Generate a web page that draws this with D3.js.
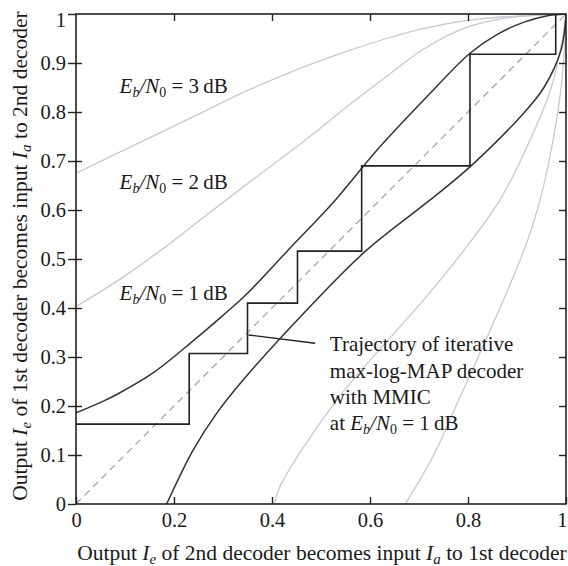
<!DOCTYPE html>
<html><head><meta charset="utf-8">
<script src="https://cdn.jsdelivr.net/npm/d3@7"></script>
<style>body{margin:0;background:#fff}svg{display:block}text{font-family:"Liberation Serif","Times New Roman",serif;fill:#1a1a1a}</style>
</head><body><svg id="c" width="568" height="566"></svg>
<script>
// ---- data ----
const xTicks = [0, 0.2, 0.4, 0.6, 0.8, 1];
const xTickLabels = ["0", "0.2", "0.4", "0.6", "0.8", "1"];
const yTicks = [0, 0.1, 0.2, 0.3, 0.4, 0.5, 0.6, 0.7, 0.8, 0.9, 1];
const yTickLabels = ["0", "0.1", "0.2", "0.3", "0.4", "0.5", "0.6", "0.7", "0.8", "0.9", "1"];

// 1st decoder transfer curves (Ie1 as function of Ia1)
const dec1_1dB_x = [0, 0.056, 0.086, 0.158, 0.239, 0.30, 0.348, 0.43, 0.529, 0.614, 0.716, 0.804, 0.859, 0.913, 0.96, 1.0];
const dec1_1dB_y = [0.186, 0.21, 0.225, 0.268, 0.333, 0.385, 0.428, 0.515, 0.62, 0.722, 0.831, 0.92, 0.958, 0.983, 0.996, 1.0];
const dec1_2dB_x = [0, 0.09, 0.199, 0.273, 0.369, 0.471, 0.552, 0.641, 0.709, 0.79, 0.879, 1.0];
const dec1_2dB_y = [0.403, 0.459, 0.537, 0.595, 0.668, 0.745, 0.81, 0.878, 0.928, 0.97, 0.992, 1.0];
const dec1_3dB_x = [0, 0.122, 0.245, 0.335, 0.437, 0.539, 0.634, 0.722, 0.824, 1.0];
const dec1_3dB_y = [0.675, 0.734, 0.793, 0.837, 0.881, 0.919, 0.95, 0.973, 0.99, 1.0];

// 2nd decoder transfer curves (Ie2 on x axis as function of Ia2 on y axis)
const dec2_1dB_y = [0, 0.11, 0.185, 0.253, 0.396, 0.518, 0.62, 0.688, 0.797, 0.85, 0.927, 1.0];
const dec2_1dB_x = [0.185, 0.239, 0.287, 0.341, 0.471, 0.593, 0.722, 0.804, 0.913, 0.955, 0.99, 1.0];
const dec2_2dB_y = [0, 0.035, 0.212, 0.416, 0.508, 0.62, 0.75, 0.85, 0.95, 1.0];
const dec2_2dB_x = [0.405, 0.416, 0.532, 0.709, 0.784, 0.865, 0.93, 0.97, 0.993, 1.0];
const dec2_3dB_y = [0, 0.1, 0.219, 0.287, 0.416, 0.52, 0.62, 0.75, 0.85, 0.95, 1.0];
const dec2_3dB_x = [0.672, 0.73, 0.784, 0.815, 0.872, 0.915, 0.947, 0.975, 0.99, 0.998, 1.0];

// decoding trajectory (staircase)
const traj_x = [0, 0.231, 0.231, 0.35, 0.35, 0.452, 0.452, 0.583, 0.583, 0.804, 0.804, 0.979, 0.979];
const traj_y = [0.163, 0.163, 0.307, 0.307, 0.41, 0.41, 0.516, 0.516, 0.69, 0.69, 0.918, 0.918, 1.0];

// diagonal and annotation leader
const diag_x = [0, 1];
const diag_y = [0, 1];
const leader_x = [0.352, 0.488];
const leader_y = [0.345, 0.328];

// ---- drawing ----
const FONT = '"Liberation Serif", "Times New Roman", serif';
const svg = d3.select("#c");
const L = 76, R = 566, T = 14, B = 504;
const x = d3.scaleLinear().domain([0, 1]).range([L, R]);
const y = d3.scaleLinear().domain([0, 1]).range([B, T]);
const zip = (xs, ys) => xs.map((v, i) => [v, ys[i]]);

svg.append("defs").append("clipPath").attr("id", "clip")
  .append("rect").attr("x", L).attr("y", T).attr("width", R - L).attr("height", B - T);
const plot = svg.append("g").attr("clip-path", "url(#clip)");

const smooth = d3.line().x(d => x(d[0])).y(d => y(d[1])).curve(d3.curveCatmullRom.alpha(0.5));
const lineL = d3.line().x(d => x(d[0])).y(d => y(d[1]));

const gray = "#c6c9d1";
[[dec1_2dB_x, dec1_2dB_y], [dec1_3dB_x, dec1_3dB_y], [dec2_2dB_x, dec2_2dB_y], [dec2_3dB_x, dec2_3dB_y]].forEach(([a, b]) =>
  plot.append("path").attr("d", smooth(zip(a, b))).attr("fill", "none").attr("stroke", gray).attr("stroke-width", 1.3));

plot.append("path").attr("d", lineL(zip(diag_x, diag_y))).attr("fill", "none")
  .attr("stroke", "#a2a5ad").attr("stroke-width", 1.3).attr("stroke-dasharray", "7,5");

plot.append("path").attr("d", smooth(zip(dec1_1dB_x, dec1_1dB_y))).attr("fill", "none").attr("stroke", "#333").attr("stroke-width", 1.5);
plot.append("path").attr("d", smooth(zip(dec2_1dB_x, dec2_1dB_y))).attr("fill", "none").attr("stroke", "#333").attr("stroke-width", 1.5);

plot.append("path").attr("d", lineL(zip(traj_x, traj_y))).attr("fill", "none").attr("stroke", "#222").attr("stroke-width", 1.6);
svg.append("path").attr("d", lineL(zip(leader_x, leader_y))).attr("fill", "none").attr("stroke", "#222").attr("stroke-width", 1.4);

// ---- axes ----
const axisColor = "#222";
function styleAxis(g) {
  g.style("font-family", FONT);
  g.select(".domain").remove();
  g.selectAll(".tick line").attr("stroke", axisColor).attr("stroke-width", 1.4);
  g.selectAll(".tick text").style("font-family", FONT).style("font-size", "20.5px").attr("fill", "#1a1a1a");
}
// bottom: inward ticks with labels
const gB = svg.append("g").attr("transform", `translate(0,${B})`)
  .call(d3.axisBottom(x).tickValues(xTicks).tickSizeInner(-7).tickSizeOuter(0).tickPadding(8)
    .tickFormat((d, i) => xTickLabels[i]));
styleAxis(gB);
gB.selectAll(".tick text").filter(d => d === 1).attr("text-anchor", "end").attr("x", 1);
// left: outward ticks with labels + inward ticks
const gL = svg.append("g").attr("transform", `translate(${L},0)`)
  .call(d3.axisLeft(y).tickValues(yTicks).tickSizeInner(8).tickSizeOuter(0).tickPadding(2)
    .tickFormat((d, i) => yTickLabels[i]));
styleAxis(gL);
gL.selectAll(".tick text").filter(d => d === 1).attr("dy", "0.62em");
const gL2 = svg.append("g").attr("transform", `translate(${L},0)`)
  .call(d3.axisRight(y).tickValues(yTicks.slice(1, -1)).tickSizeInner(6).tickSizeOuter(0).tickFormat(""));
styleAxis(gL2);
// right: inward ticks
const gR = svg.append("g").attr("transform", `translate(${R},0)`)
  .call(d3.axisLeft(y).tickValues(yTicks.slice(1, -1)).tickSizeInner(7).tickSizeOuter(0).tickFormat(""));
styleAxis(gR);
// top: inward ticks
const gT = svg.append("g").attr("transform", `translate(0,${T})`)
  .call(d3.axisBottom(x).tickValues(xTicks.slice(1, -1)).tickSizeInner(7).tickSizeOuter(0).tickFormat(""));
styleAxis(gT);

svg.append("rect").attr("x", L).attr("y", T).attr("width", R - L).attr("height", B - T)
  .attr("fill", "none").attr("stroke", axisColor).attr("stroke-width", 1.6);

// ---- text ----
function ebN0(t, value) {
  t.append("tspan").attr("font-style", "italic").text("E");
  t.append("tspan").attr("font-style", "italic").attr("font-size", 14).attr("dy", 4).text("b");
  t.append("tspan").attr("font-style", "italic").attr("dy", -4).text("/N");
  t.append("tspan").attr("font-size", 14).attr("dy", 4).text("0");
  t.append("tspan").attr("dy", -4).text(" = " + value + "\u2009dB");
}
const snrLabels = [["3", 0.089, 0.839], ["2", 0.089, 0.643], ["1", 0.089, 0.416]];
snrLabels.forEach(([v, px, py]) => {
  const t = svg.append("text").attr("x", x(px)).attr("y", y(py)).attr("font-size", 21);
  ebN0(t, v);
});

const annLines = ["Trajectory of iterative", "max-log-MAP decoder", "with MMIC"];
const annY = [0.312, 0.258, 0.204, 0.151];
annLines.forEach((s, i) =>
  svg.append("text").attr("x", x(0.518)).attr("y", y(annY[i])).attr("font-size", 21).text(s));
const last = svg.append("text").attr("x", x(0.518)).attr("y", y(annY[3])).attr("font-size", 21);
last.append("tspan").text("at ");
ebN0(last, "1");

function ioLabel(t, a, b) {
  t.append("tspan").text("Output ");
  t.append("tspan").attr("font-style", "italic").text("I");
  t.append("tspan").attr("font-style", "italic").attr("font-size", 15).attr("dy", 4).text("e");
  t.append("tspan").attr("dy", -4).text(" of " + a + " decoder becomes input ");
  t.append("tspan").attr("font-style", "italic").text("I");
  t.append("tspan").attr("font-style", "italic").attr("font-size", 15).attr("dy", 4).text("a");
  t.append("tspan").attr("dy", -4).text(" to " + b + " decoder");
}
const xl = svg.append("text").attr("x", 322).attr("y", 560).attr("text-anchor", "middle").attr("font-size", 21.5);
ioLabel(xl, "2nd", "1st");
const yl = svg.append("text").attr("transform", "translate(27,256) rotate(-90)").attr("text-anchor", "middle").attr("font-size", 21.5);
ioLabel(yl, "1st", "2nd");
</script></body></html>
